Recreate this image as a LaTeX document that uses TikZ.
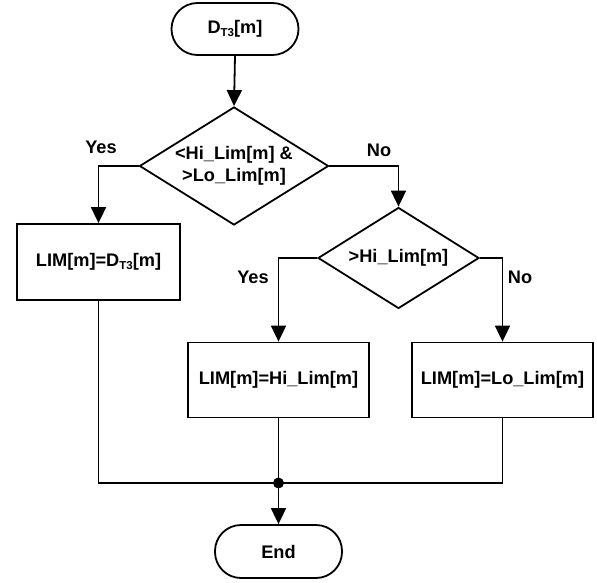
\documentclass[tikz,border=0pt]{standalone}
\usepackage{fontspec}
\setmainfont{Liberation Sans}
\usetikzlibrary{shapes.geometric,arrows.meta}
\begin{document}
\begin{tikzpicture}[x=1pt,y=-1pt,
  every node/.style={font=\bfseries\fontsize{18.2}{22}\selectfont},
  term/.style={draw,line width=1.8pt,rectangle,rounded corners=26pt,minimum width=127pt,minimum height=52pt,inner sep=0pt},
  procbox/.style={draw,line width=1.8pt,rectangle,minimum height=75pt,inner sep=0pt},
  decbox/.style={draw,line width=1.8pt,diamond,inner sep=0pt},
  conn/.style={line width=1.8pt},
  arr/.style={conn,-{Triangle[length=16pt,width=15pt]}},
  lbl/.style={inner sep=0pt}]
\useasboundingbox (0,0) rectangle (597,583);
\newcommand{\Dsub}{D\raisebox{-0.25ex}{\fontsize{11.5}{11.5}\selectfont T3}}
\node[term] (start) at (235,29) {\Dsub[m]};
\node[decbox,minimum width=189pt,minimum height=118pt] (d1) at (234,166) {};
\node[align=center,inner sep=0pt] (d1t) at (234,166) {<Hi\_Lim[m] \&\\>Lo\_Lim[m]};
\node[procbox,minimum width=163pt,minimum height=76pt] (b1) at (98.5,262) {LIM[m]=\Dsub[m]};
\node[decbox,minimum width=161pt,minimum height=101pt] (d2) at (398.5,258) {};
\node[inner sep=0pt] (d2t) at (398.5,258) {>Hi\_Lim[m]};
\node[procbox,minimum width=181pt] (b2) at (278.5,380) {LIM[m]=Hi\_Lim[m]};
\node[procbox,minimum width=181pt] (b3) at (502.5,380) {LIM[m]=Lo\_Lim[m]};
\node[term,minimum height=53pt] (end) at (278.5,551.5) {End};
\coordinate (j) at (278.5,483);
\draw[arr] (start.south) -- (d1.north);
\draw[arr] (d1.west) -| (b1.north);
\draw[arr] (d1.east) -| (d2.north);
\draw[arr] (d2.west) -| (b2.north);
\draw[arr] (d2.east) -| (b3.north);
\draw[conn] (b1.south) |- (j);
\draw[conn] (b3.south) |- (j);
\draw[conn] (b2.south) -- (j);
\draw[arr] (j) -- (end.north);
\fill (j) circle (5.5pt);
\node[lbl] (y1) at (101,147) {Yes};
\node[lbl] (n1) at (379,150) {No};
\node[lbl] (y2) at (253,277) {Yes};
\node[lbl] (n2) at (520,277) {No};
\end{tikzpicture}
\end{document}
